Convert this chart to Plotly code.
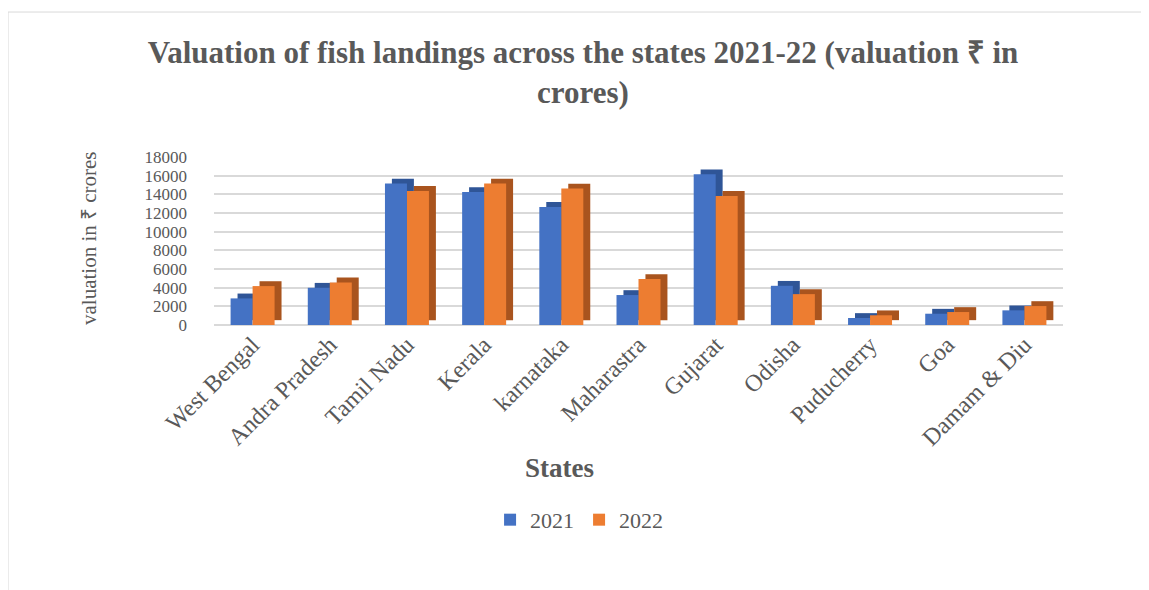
import plotly.graph_objects as go

states = ["West Bengal", "Andra Pradesh", "Tamil Nadu", "Kerala", "karnataka",
          "Maharastra", "Gujarat", "Odisha", "Puducherry", "Goa", "Damam & Diu"]
val_2021 = [2850, 3990, 15150, 14250, 12650, 3210, 16150, 4200, 750, 1210, 1570]
val_2022 = [4170, 4560, 14360, 15150, 14620, 4920, 13830, 3310, 1040, 1390, 2030]
series_names = ["2021", "2022"]

BLUE, BLUE_DK = "#4472C4", "#2F5597"
ORANGE, ORANGE_DK = "#ED7D31", "#A9541E"
FONT = "Liberation Serif"
GREY = "#595959"

W = 0.285      # bar width in category units
DX = 0.09      # depth offset (x, category units)
DY = 520       # depth offset (y, data units)

fig = go.Figure()
for vals, name, col, dk, off in [(val_2021, series_names[0], BLUE, BLUE_DK, -W),
                                 (val_2022, series_names[1], ORANGE, ORANGE_DK, 0.0)]:
    # depth / side face
    fig.add_trace(go.Bar(x=states, y=vals, base=DY, offset=off + DX, width=W,
                         marker=dict(color=dk, line=dict(width=0)),
                         showlegend=False, hoverinfo="skip"))
    # front face
    fig.add_trace(go.Bar(x=states, y=vals, offset=off, width=W, name=name,
                         marker=dict(color=col, line=dict(width=0))))

fig.update_layout(
    width=1149, height=590,
    margin=dict(l=206, r=94, t=149, b=273),
    paper_bgcolor="white", plot_bgcolor="white",
    barmode="overlay",
    font=dict(family=FONT, color=GREY, size=22),
    title=dict(text="<b>Valuation of fish landings across the states 2021-22 (valuation ₹ in<br>crores)</b>",
               x=0.5004, xref="container", xanchor="center",
               y=1 - 55 / 590, yref="container", yanchor="middle",
               font=dict(family=FONT, size=31, color=GREY)),
    showlegend=True,
    legend=dict(orientation="h", x=0.43, xanchor="center", y=-1.16, yanchor="middle",
                font=dict(family=FONT, size=22, color=GREY), traceorder="normal",
                itemwidth=30),
)
fig.update_xaxes(tickangle=-45, showgrid=False, showline=False, ticks="",
                 tickfont=dict(family=FONT, size=24, color=GREY))
fig.update_yaxes(range=[0, 18000], dtick=2000, tickformat="d", showgrid=True, gridcolor="#D9D9D9",
                 gridwidth=2, zeroline=True, zerolinecolor="#D9D9D9", zerolinewidth=2,
                 ticks="", tickfont=dict(family=FONT, size=17, color=GREY),
                 ticklabelstandoff=26)

fig.add_annotation(text="valuation in ₹ crores", textangle=-90, xref="paper", yref="paper",
                   x=-0.148, y=0.52, xanchor="center", yanchor="middle", showarrow=False,
                   font=dict(family=FONT, size=21, color=GREY))
fig.add_annotation(text="<b>States</b>", xref="paper", yref="paper",
                   x=0.4075, y=-0.851, xanchor="center", yanchor="middle", showarrow=False,
                   font=dict(family=FONT, size=27, color=GREY))
fig.add_shape(type="rect", xref="paper", yref="paper",
              x0=-0.2426, x1=1.2, y0=-1.7, y1=1.863,
              line=dict(color="#D9D9D9", width=1), fillcolor="rgba(0,0,0,0)", layer="below")

fig.write_html("out.html")
